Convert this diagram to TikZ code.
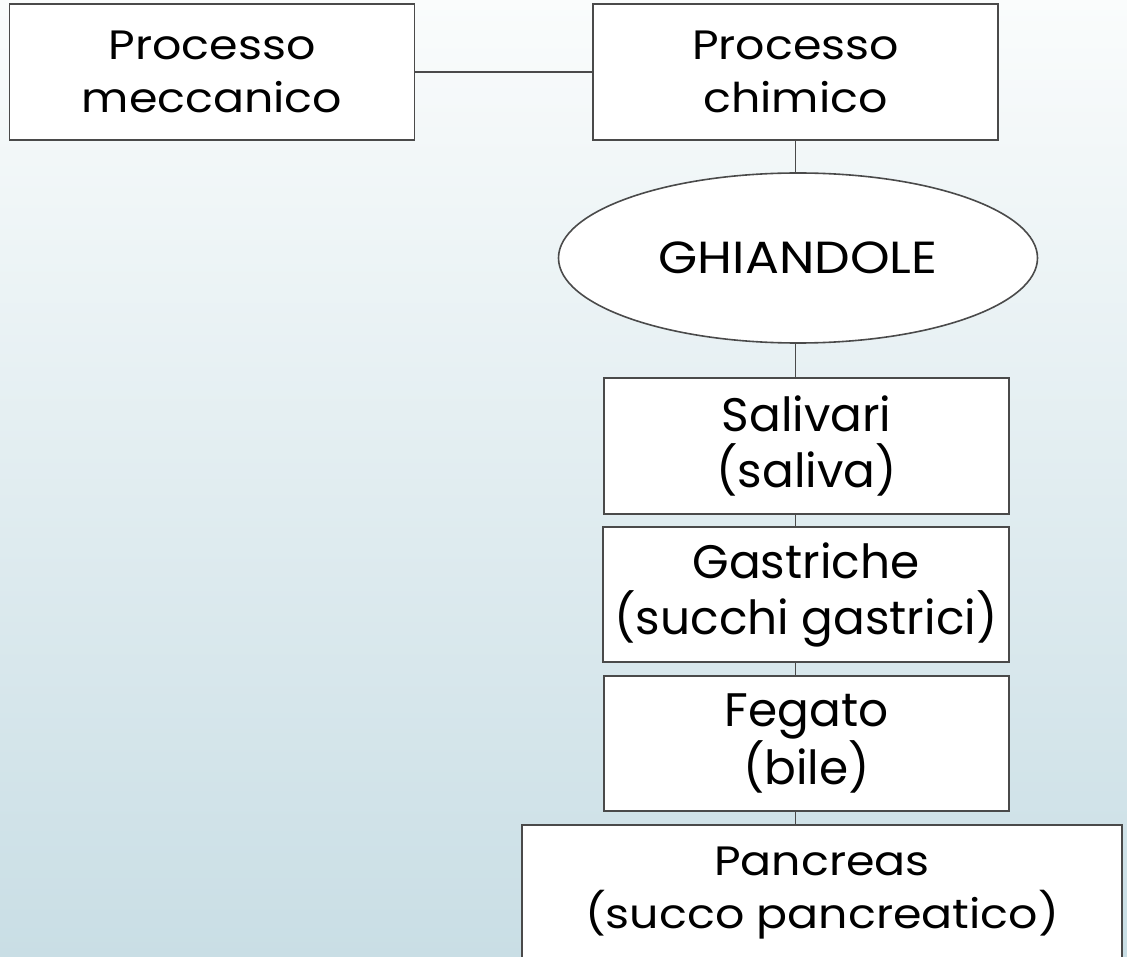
\documentclass[tikz,border=0pt]{standalone}
\usepackage{fontspec}
\setmainfont{Poppins}
\newfontfamily\widefont[FakeStretch=1.12]{Poppins}
\usetikzlibrary{shapes.geometric}

\definecolor{edgegray}{HTML}{4A4A4A}
\definecolor{bgtop}{HTML}{FAFCFC}
\definecolor{bgbottom}{HTML}{C9DEE5}

\tikzset{
	box/.style={draw=edgegray, line width=1.6pt, fill=white, inner sep=0pt, align=center},
	smalltext/.style={font=\widefont\fontsize{41}{53}\selectfont},
	bigtext/.style={font=\fontsize{47}{56}\selectfont},
	gland/.style={ellipse, draw=edgegray, line width=1.6pt, fill=white, inner sep=0pt,
		minimum width=479pt, minimum height=170pt, font=\widefont\fontsize{45}{56}\selectfont},
	link/.style={draw=edgegray, line width=1.3pt}
}

\begin{document}
\begin{tikzpicture}[x=1pt, y=-1pt]
	% Draw the background
	\clip (0,0) rectangle (1127,957);
	\shade[top color=bgtop, bottom color=bgbottom] (0,0) rectangle (1127,957);
	
	% Draw the two processes
	\node[box, smalltext, minimum width=405pt, minimum height=136pt] (mech) at (212,72) {Processo\\meccanico};
	\node[box, smalltext, minimum width=405pt, minimum height=136pt] (chem) at (795.5,72) {Processo\\chimico};
	
	% Draw the glands ellipse
	\node[gland] (glands) at (798,258) {GHIANDOLE};
	
	% Draw the list of glands
	\node[box, bigtext, minimum width=405pt, minimum height=136pt] (saliv) at (806.5,446) {Salivari\\(saliva)};
	\node[box, bigtext, minimum width=406pt, minimum height=135pt] (gastr) at (806,594.5) {Gastriche\\(succhi gastrici)};
	\node[box, bigtext, minimum width=405pt, minimum height=135pt] (liver) at (806.5,743.5) {Fegato\\(bile)};
	\node[box, smalltext, minimum width=600pt, minimum height=136pt] (pancr) at (822,893) {Pancreas\\(succo pancreatico)};
	
	% Draw the connectors
	\draw[link] (mech.east) -- (chem.west);
	\draw[link] (chem.south) -- (chem.south |- glands.north);
	\draw[link] (glands.south -| chem.south) -- (saliv.north -| chem.south);
	\foreach \a/\b in {saliv/gastr, gastr/liver, liver/pancr} {
		\draw[link] (\a.south -| chem.south) -- (\b.north -| chem.south);
	}
\end{tikzpicture}
\end{document}
